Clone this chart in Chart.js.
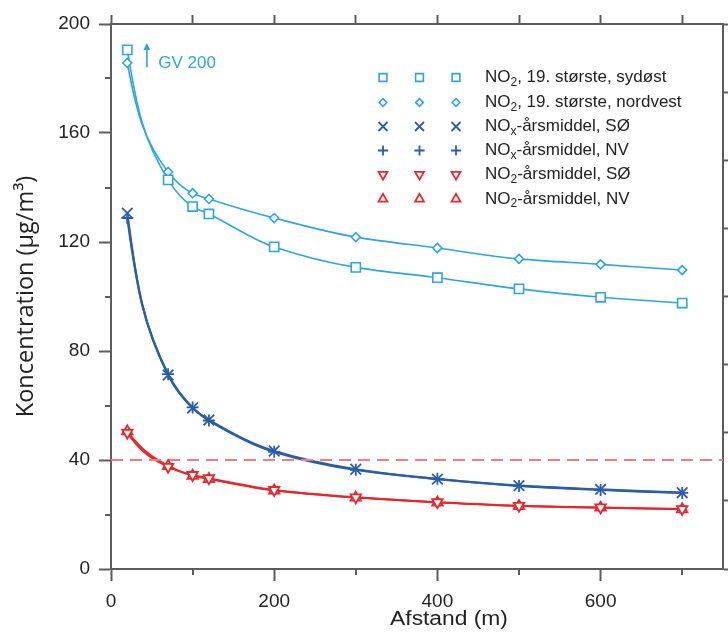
<!DOCTYPE html>
<html>
<head>
<meta charset="utf-8">
<script src="https://cdn.jsdelivr.net/npm/chart.js@4.4.1/dist/chart.umd.min.js"></script>
<style>
  html, body { margin: 0; padding: 0; background: #ffffff; }
  #wrap { width: 728px; height: 633px; position: relative; }
</style>
</head>
<body>
<div id="wrap"><canvas id="c" width="728" height="633"></canvas></div>
<script>
// ---- data ----
const distances = [20, 70, 100, 120, 200, 300, 400, 500, 600, 700];
const no2MaxSE  = [190.5, 142.8, 133.0, 130.3, 118.2, 110.7, 106.9, 102.8, 99.7, 97.6];
const no2MaxNW  = [185.7, 145.7, 137.9, 135.8, 128.8, 121.8, 117.8, 113.8, 111.8, 109.7];
const noxMeanSE = [130.6, 71.2, 59.1, 54.7, 43.3, 36.6, 33.0, 30.6, 29.2, 28.0];
const noxMeanNW = [128.8, 71.5, 59.3, 54.5, 43.0, 36.4, 33.1, 30.5, 29.0, 27.9];
const no2MeanSE = [50.0, 37.5, 34.5, 33.3, 29.0, 26.3, 24.5, 23.2, 22.6, 22.0];
const no2MeanNW = [50.5, 37.8, 34.2, 33.0, 28.8, 26.2, 24.4, 23.1, 22.5, 21.9];
const limitValue = 40;
const limitRange = [0, 750];

const seriesLabels = [
  ['NO', '2', ', 19. største, sydøst'],
  ['NO', '2', ', 19. største, nordvest'],
  ['NO', 'x', '-årsmiddel, SØ'],
  ['NO', 'x', '-årsmiddel, NV'],
  ['NO', '2', '-årsmiddel, SØ'],
  ['NO', '2', '-årsmiddel, NV']
];
const xMajorTicks = [0, 200, 400, 600];
const xMinorTicks = [100, 300, 500, 700];
const xTopTicks = [0, 100, 200, 300, 400, 500, 600, 700];
const yMajorTicks = [0, 40, 80, 120, 160, 200];
const yMinorTicks = [20, 60, 100, 140, 180];
const yRightTicks = [0, 25, 50, 75, 100, 125, 150, 175, 200];
const xTitle = 'Afstand (m)';
const yTitle = 'Koncentration (µg/m³)';
const gvText = 'GV 200';
const gvArrow = { x: 44, yFrom: 184, yTo: 193 };
const gvLabelPos = { x: 58, y: 185.5 };

// ---- styles ----
const LIGHT = '#2ba6e1';
const DARK = '#2b5ea9';
const RED = '#e8272c';
const LIMIT = '#f27c7a';
const TXT = '#222222';
const AXIS = '#5c5c5c';
const FONT = "'Liberation Sans', Arial, sans-serif";

const styles = [
  { color: LIGHT, style: 'rect', r: 6.5, lw: 1.6, pw: 1.6 },
  { color: LIGHT, style: 'rectRot', r: 4.5, lw: 1.6, pw: 1.6 },
  { color: DARK, style: 'crossRot', r: 7.5, lw: 2.2, pw: 1.8 },
  { color: DARK, style: 'cross', r: 6, lw: 2.2, pw: 1.8 },
  { color: RED, style: 'triangle', rot: 180, r: 6, lw: 2, pw: 1.8 },
  { color: RED, style: 'triangle', rot: 0, r: 6, lw: 2, pw: 1.8 }
];
const seriesValues = [no2MaxSE, no2MaxNW, noxMeanSE, noxMeanNW, no2MeanSE, no2MeanNW];

function toPoints(vals) { return distances.map((d, i) => ({ x: d, y: vals[i] })); }

const datasets = seriesValues.map((vals, i) => {
  const s = styles[i];
  return {
    label: seriesLabels[i].join(''),
    data: toPoints(vals),
    showLine: false,
    curveColor: s.color,
    curveWidth: s.lw,
    borderColor: s.color,
    pointStyle: s.style,
    pointRotation: s.rot || 0,
    pointRadius: s.r,
    pointBorderWidth: s.pw,
    pointBorderColor: s.color,
    pointBackgroundColor: '#ffffff'
  };
});
datasets.push({
  label: 'Grænseværdi',
  data: limitRange.map(x => ({ x: x, y: limitValue })),
  showLine: true,
  borderColor: LIMIT,
  borderWidth: 2,
  borderDash: [12, 7],
  pointRadius: 0,
  fill: false
});

function setTicks(vals) {
  return function (scale) { scale.ticks = vals.map(v => ({ value: v })); };
}

// smooth curve through the library-positioned point elements (decaying-curve spline)
const curvePlugin = {
  id: 'curves',
  beforeDatasetsDraw(chart) {
    const ctx = chart.ctx, area = chart.chartArea;
    ctx.save();
    ctx.beginPath();
    ctx.rect(area.left, area.top, area.right - area.left, area.bottom - area.top);
    ctx.clip();
    chart.data.datasets.forEach((ds, di) => {
      if (!ds.curveColor) return;
      const pts = chart.getDatasetMeta(di).data.map(p => ({ x: p.x, y: p.y }));
      const n = pts.length;
      const d = [];
      for (let i = 0; i < n - 1; i++) d.push((pts[i + 1].y - pts[i].y) / (pts[i + 1].x - pts[i].x));
      const m = [];
      for (let i = 0; i < n; i++) {
        if (i === 0 || i === n - 1) { m.push(0); continue; }
        m.push((d[i - 1] * d[i] > 0) ? 2 * d[i - 1] * d[i] / (d[i - 1] + d[i]) : 0);
      }
      m[n - 1] = d[n - 2];
      m[0] = m[1] !== 0 ? d[0] * d[0] / m[1] : d[0];
      const dir = m.map(v => { const l = Math.hypot(1, v); return { x: 1 / l, y: v / l }; });
      ctx.strokeStyle = ds.curveColor;
      ctx.lineWidth = ds.curveWidth;
      ctx.lineJoin = 'round';
      ctx.beginPath();
      ctx.moveTo(pts[0].x, pts[0].y);
      for (let i = 0; i < n - 1; i++) {
        const a = pts[i], b = pts[i + 1];
        const chord = Math.hypot(b.x - a.x, b.y - a.y);
        const L1 = chord * (i === 0 ? 0.45 : 0.34);
        const L2 = chord * 0.34;
        ctx.bezierCurveTo(a.x + dir[i].x * L1, a.y + dir[i].y * L1,
                          b.x - dir[i + 1].x * L2, b.y - dir[i + 1].y * L2, b.x, b.y);
      }
      ctx.stroke();
    });
    ctx.restore();
  }
};

function drawMarker(ctx, style, x, y, r, rot, color, lw) {
  ctx.save();
  ctx.strokeStyle = color;
  ctx.fillStyle = '#ffffff';
  ctx.lineWidth = lw;
  ctx.beginPath();
  if (style === 'rect') {
    const h = r * Math.SQRT1_2;
    ctx.rect(x - h, y - h, 2 * h, 2 * h);
    ctx.fill(); ctx.stroke();
  } else if (style === 'rectRot') {
    ctx.moveTo(x, y - r); ctx.lineTo(x + r, y); ctx.lineTo(x, y + r); ctx.lineTo(x - r, y); ctx.closePath();
    ctx.fill(); ctx.stroke();
  } else if (style === 'crossRot') {
    const h = r * Math.SQRT1_2;
    ctx.moveTo(x - h, y - h); ctx.lineTo(x + h, y + h);
    ctx.moveTo(x - h, y + h); ctx.lineTo(x + h, y - h);
    ctx.stroke();
  } else if (style === 'cross') {
    ctx.moveTo(x - r, y); ctx.lineTo(x + r, y);
    ctx.moveTo(x, y - r); ctx.lineTo(x, y + r);
    ctx.stroke();
  } else if (style === 'triangle') {
    const a = (rot || 0) * Math.PI / 180;
    for (let k = 0; k < 3; k++) {
      const ang = a + k * 2 * Math.PI / 3;
      const px = x + Math.sin(ang) * r, py = y - Math.cos(ang) * r;
      if (k === 0) ctx.moveTo(px, py); else ctx.lineTo(px, py);
    }
    ctx.closePath();
    ctx.fill(); ctx.stroke();
  }
  ctx.restore();
}

const decorPlugin = {
  id: 'decor',
  afterDraw(chart) {
    const ctx = chart.ctx;
    const xs = chart.scales.x, ys = chart.scales.y;
    const area = chart.chartArea;
    ctx.save();
    // minor ticks
    ctx.strokeStyle = AXIS;
    ctx.lineWidth = 2;
    ctx.beginPath();
    xMinorTicks.forEach(v => {
      const px = Math.round(xs.getPixelForValue(v));
      ctx.moveTo(px, area.bottom); ctx.lineTo(px, area.bottom + 6);
    });
    yMinorTicks.forEach(v => {
      const py = Math.round(ys.getPixelForValue(v));
      ctx.moveTo(area.left, py); ctx.lineTo(area.left - 6, py);
    });
    ctx.stroke();

    // x title (slightly wide lettering like the reference)
    ctx.save();
    ctx.fillStyle = TXT;
    ctx.font = "20px " + FONT;
    ctx.textAlign = 'center';
    ctx.textBaseline = 'middle';
    ctx.translate(449, 619);
    ctx.scale(1.14, 1);
    ctx.fillText(xTitle, 0, 0);
    ctx.restore();

    // GV 200 arrow + label
    const ax = xs.getPixelForValue(gvArrow.x);
    const ay0 = ys.getPixelForValue(gvArrow.yFrom);
    const ay1 = ys.getPixelForValue(gvArrow.yTo);
    ctx.strokeStyle = LIGHT; ctx.fillStyle = LIGHT; ctx.lineWidth = 1.6;
    ctx.beginPath(); ctx.moveTo(ax, ay0); ctx.lineTo(ax, ay1 + 4); ctx.stroke();
    ctx.beginPath(); ctx.moveTo(ax, ay1); ctx.lineTo(ax - 3.5, ay1 + 7); ctx.lineTo(ax + 3.5, ay1 + 7); ctx.closePath(); ctx.fill();
    ctx.font = "17px " + FONT;
    ctx.textAlign = 'left';
    ctx.textBaseline = 'middle';
    ctx.fillText(gvText, xs.getPixelForValue(gvLabelPos.x), ys.getPixelForValue(gvLabelPos.y));

    // legend
    const rowY = [77.5, 102.5, 126.5, 150.5, 174.5, 199];
    const markX = [383, 419.5, 456];
    const textX = 485;
    seriesLabels.forEach((parts, i) => {
      const s = styles[i];
      const y = rowY[i];
      markX.forEach(mx => drawMarker(ctx, s.style, mx, y, s.r * 0.85, s.rot, s.color, s.pw));
      ctx.fillStyle = TXT;
      ctx.textAlign = 'left';
      ctx.textBaseline = 'middle';
      ctx.font = "17px " + FONT;
      let x = textX;
      ctx.fillText(parts[0], x, y);
      x += ctx.measureText(parts[0]).width;
      ctx.font = "12px " + FONT;
      ctx.fillText(parts[1], x, y + 5);
      x += ctx.measureText(parts[1]).width;
      ctx.font = "17px " + FONT;
      ctx.fillText(parts[2], x, y);
    });
    ctx.restore();
  }
};

const tickFont = { family: FONT, size: 19 };
function noPad(s) { s.paddingLeft = 0; s.paddingRight = 0; }

new Chart(document.getElementById('c'), {
  type: 'scatter',
  data: { datasets: datasets },
  options: {
    responsive: false,
    devicePixelRatio: 1,
    animation: false,
    layout: { padding: 0, autoPadding: false },
    plugins: { legend: { display: false }, tooltip: { enabled: false }, title: { display: false } },
    scales: {
      x: {
        type: 'linear', position: 'bottom', min: 0, max: 750,
        afterBuildTicks: setTicks(xMajorTicks),
        afterFit: s => { s.height = 64; noPad(s); },
        grid: { display: true, drawOnChartArea: false, drawTicks: true, tickLength: 12, tickColor: AXIS, tickWidth: 2 },
        border: { display: true, color: AXIS, width: 2 },
        ticks: { color: TXT, font: tickFont, padding: 9, maxRotation: 0, autoSkip: false }
      },
      xTop: {
        type: 'linear', position: 'top', min: 0, max: 750,
        afterBuildTicks: setTicks(xTopTicks),
        afterFit: s => { s.height = 24; noPad(s); },
        grid: { display: true, drawOnChartArea: false, drawTicks: true, tickLength: 9, tickColor: AXIS, tickWidth: 2 },
        border: { display: true, color: AXIS, width: 2 },
        ticks: { display: false }
      },
      y: {
        type: 'linear', position: 'left', min: 0, max: 200,
        afterBuildTicks: setTicks(yMajorTicks),
        afterFit: s => { s.width = 111; },
        grid: { display: true, drawOnChartArea: false, drawTicks: true, tickLength: 12, tickColor: AXIS, tickWidth: 2 },
        border: { display: true, color: AXIS, width: 2 },
        ticks: { color: TXT, font: tickFont, padding: 9, autoSkip: false },
        title: { display: true, text: yTitle, color: TXT, font: { family: "'Open Sans', sans-serif", size: 23.5 }, padding: { top: 12, bottom: 0 } }
      },
      yRight: {
        type: 'linear', position: 'right', min: 0, max: 200,
        afterBuildTicks: setTicks(yRightTicks),
        afterFit: s => { s.width = 5; },
        grid: { display: true, drawOnChartArea: false, drawTicks: true, tickLength: 5, tickColor: AXIS, tickWidth: 2 },
        border: { display: true, color: AXIS, width: 2 },
        ticks: { display: false }
      }
    }
  },
  plugins: [curvePlugin, decorPlugin]
});
</script>
</body>
</html>
